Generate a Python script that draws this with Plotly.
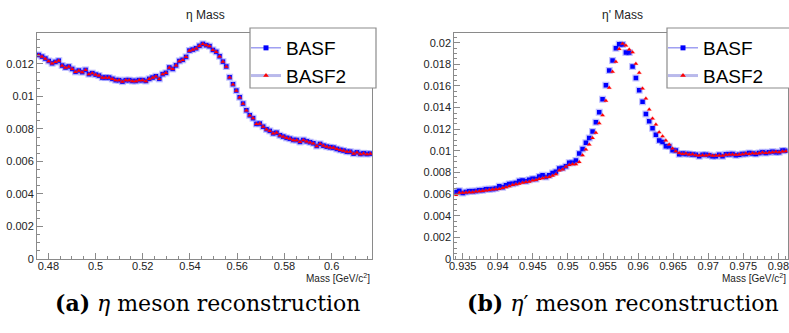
import numpy as np
import plotly.graph_objects as go

# ---------------- data ----------------
# eta histogram: 100 bins
eta_lo, eta_hi, eta_nbins = 0.4752, 0.6171, 100
eta_basf = [
    0.01255, 0.01245, 0.01233, 0.01218, 0.01204, 0.01212, 0.01220, 0.01190, 0.01178, 0.01184,
    0.01169, 0.01151, 0.01159, 0.01149, 0.01163, 0.01137, 0.01143, 0.01134, 0.01128, 0.01116,
    0.01116, 0.01116, 0.01108, 0.01100, 0.01100, 0.01091, 0.01100, 0.01100, 0.01095, 0.01095,
    0.01100, 0.01100, 0.01095, 0.01108, 0.01116, 0.01124, 0.01108, 0.01137, 0.01145, 0.01178,
    0.01169, 0.01191, 0.01218, 0.01225, 0.01243, 0.01282, 0.01288, 0.01296, 0.01311, 0.01323,
    0.01315, 0.01309, 0.01286, 0.01274, 0.01247, 0.01214, 0.01184, 0.01118, 0.01075, 0.01036,
    0.00995, 0.00956, 0.00915, 0.00884, 0.00866, 0.00831, 0.00833, 0.00814, 0.00798, 0.00788,
    0.00773, 0.00777, 0.00761, 0.00753, 0.00745, 0.00740, 0.00732, 0.00732, 0.00720, 0.00732,
    0.00724, 0.00718, 0.00712, 0.00695, 0.00708, 0.00697, 0.00691, 0.00687, 0.00685, 0.00677,
    0.00671, 0.00667, 0.00660, 0.00660, 0.00648, 0.00656, 0.00646, 0.00650, 0.00646, 0.00648,
]
eta_basf2 = [
    0.01253, 0.01244, 0.01232, 0.01217, 0.01203, 0.01211, 0.01219, 0.01189, 0.01177, 0.01183,
    0.01168, 0.01150, 0.01158, 0.01148, 0.01162, 0.01136, 0.01142, 0.01133, 0.01127, 0.01115,
    0.01115, 0.01115, 0.01107, 0.01099, 0.01099, 0.01090, 0.01099, 0.01099, 0.01094, 0.01094,
    0.01099, 0.01099, 0.01094, 0.01107, 0.01115, 0.01123, 0.01107, 0.01136, 0.01144, 0.01177,
    0.01168, 0.01190, 0.01217, 0.01224, 0.01242, 0.01281, 0.01287, 0.01295, 0.01310, 0.01322,
    0.01314, 0.01308, 0.01285, 0.01273, 0.01246, 0.01213, 0.01183, 0.01117, 0.01074, 0.01035,
    0.00994, 0.00955, 0.00914, 0.00883, 0.00865, 0.00830, 0.00832, 0.00813, 0.00797, 0.00787,
    0.00772, 0.00776, 0.00760, 0.00752, 0.00744, 0.00739, 0.00731, 0.00731, 0.00719, 0.00731,
    0.00723, 0.00717, 0.00711, 0.00694, 0.00707, 0.00696, 0.00690, 0.00686, 0.00684, 0.00676,
    0.00670, 0.00666, 0.00659, 0.00659, 0.00647, 0.00655, 0.00645, 0.00649, 0.00645, 0.00647,
]

# eta' histogram: 100 bins
etap_lo, etap_hi, etap_nbins = 0.9338, 0.9813, 100
etap_basf = [
    0.00620, 0.00632, 0.00611, 0.00620, 0.00626, 0.00626, 0.00630, 0.00636, 0.00636, 0.00645,
    0.00645, 0.00648, 0.00651, 0.00672, 0.00663, 0.00682, 0.00694, 0.00697, 0.00703, 0.00722,
    0.00725, 0.00719, 0.00734, 0.00743, 0.00740, 0.00762, 0.00774, 0.00759, 0.00774, 0.00796,
    0.00806, 0.00836, 0.00842, 0.00858, 0.00889, 0.00889, 0.00910, 0.00975, 0.01018, 0.01074,
    0.01120, 0.01179, 0.01265, 0.01358, 0.01478, 0.01607, 0.01744, 0.01836, 0.01950, 0.01985,
    0.01984, 0.01910, 0.01910, 0.01780, 0.01675, 0.01560, 0.01455, 0.01340, 0.01275, 0.01210,
    0.01148, 0.01097, 0.01083, 0.01043, 0.01043, 0.01006, 0.01003, 0.00969, 0.00975, 0.00972,
    0.00972, 0.00966, 0.00963, 0.00950, 0.00963, 0.00963, 0.00960, 0.00950, 0.00950, 0.00963,
    0.00950, 0.00969, 0.00969, 0.00972, 0.00960, 0.00963, 0.00972, 0.00972, 0.00981, 0.00975,
    0.00972, 0.00981, 0.00988, 0.00981, 0.00988, 0.00991, 0.00988, 0.00988, 0.01003, 0.01000,
]
etap_basf2 = [
    0.00593, 0.00612, 0.00612, 0.00615, 0.00618, 0.00618, 0.00624, 0.00627, 0.00630, 0.00633,
    0.00639, 0.00642, 0.00645, 0.00648, 0.00657, 0.00663, 0.00672, 0.00684, 0.00691, 0.00697,
    0.00706, 0.00712, 0.00715, 0.00725, 0.00731, 0.00740, 0.00746, 0.00756, 0.00759, 0.00771,
    0.00784, 0.00818, 0.00827, 0.00852, 0.00870, 0.00876, 0.00876, 0.00898, 0.00959, 0.01012,
    0.01058, 0.01120, 0.01167, 0.01256, 0.01330, 0.01463, 0.01583, 0.01731, 0.01824, 0.01941,
    0.01990, 0.01975, 0.01938, 0.01913, 0.01806, 0.01722, 0.01577, 0.01484, 0.01382, 0.01299,
    0.01244, 0.01172, 0.01135, 0.01095, 0.01058, 0.01021, 0.00997, 0.00981, 0.00972, 0.00975,
    0.00966, 0.00969, 0.00960, 0.00957, 0.00960, 0.00957, 0.00963, 0.00954, 0.00957, 0.00957,
    0.00954, 0.00963, 0.00966, 0.00966, 0.00963, 0.00966, 0.00969, 0.00975, 0.00972, 0.00978,
    0.00975, 0.00978, 0.00984, 0.00981, 0.00984, 0.00988, 0.00991, 0.00988, 0.00994, 0.00997,
]

series_names = ["BASF", "BASF2"]
titles = ["\u03b7 Mass", "\u03b7' Mass"]
captions = ["<b>(a)</b> <i>\u03b7</i> meson reconstruction",
            "<b>(b)</b> <i>\u03b7</i>\u2032 meson reconstruction"]
x_title = "Mass [GeV/c<sup>2</sup>]"


def centers(lo, hi, n):
    edges = np.linspace(lo, hi, n + 1)
    return 0.5 * (edges[:-1] + edges[1:])


eta_x = centers(eta_lo, eta_hi, eta_nbins)
etap_x = centers(etap_lo, etap_hi, etap_nbins)

W, H = 789, 333
FRAME_TOP, FRAME_BOT = 33, 259
yd = [1 - FRAME_BOT / H, 1 - FRAME_TOP / H]
left_dom = [37 / W, 372 / W]
right_dom = [454.3 / W, 787.5 / W]

BLUE = "rgb(0,0,255)"
RED = "rgb(255,0,0)"
HALO = "rgba(120,120,255,0.45)"
HALO2 = "rgba(255,120,120,0.25)"
AXC = "#8a8a8a"
TXT = "#222222"

fig = go.Figure()


def add_panel(x, yb, yr, xa, ya, legend):
    fig.add_trace(go.Scatter(x=x, y=yb, xaxis=xa, yaxis=ya, mode="markers",
                             marker=dict(symbol="square", size=7, color=HALO),
                             showlegend=False, hoverinfo="skip"))
    fig.add_trace(go.Scatter(x=x, y=yb, xaxis=xa, yaxis=ya, mode="markers",
                             marker=dict(symbol="square", size=4.5, color=BLUE),
                             showlegend=False))
    fig.add_trace(go.Scatter(x=x, y=yr, xaxis=xa, yaxis=ya, mode="markers",
                             marker=dict(symbol="triangle-up", size=6, color=HALO2),
                             showlegend=False, hoverinfo="skip"))
    fig.add_trace(go.Scatter(x=x, y=yr, xaxis=xa, yaxis=ya, mode="markers",
                             marker=dict(symbol="triangle-up", size=4, color=RED),
                             showlegend=False))
    # legend entries
    fig.add_trace(go.Scatter(x=[None], y=[None], xaxis=xa, yaxis=ya, mode="lines+markers",
                             name=series_names[0], legend=legend,
                             line=dict(color="rgb(110,110,235)", width=1),
                             marker=dict(symbol="square", size=5, color=BLUE)))
    fig.add_trace(go.Scatter(x=[None], y=[None], xaxis=xa, yaxis=ya, mode="lines+markers",
                             name=series_names[1], legend=legend,
                             line=dict(color="rgb(185,185,235)", width=3),
                             marker=dict(symbol="triangle-up", size=5, color=RED)))


add_panel(eta_x, eta_basf, eta_basf2, "x", "y", "legend")
add_panel(etap_x, etap_basf, etap_basf2, "x2", "y2", "legend2")

tickfont = dict(family="Liberation Sans, Arial, sans-serif", size=11, color=TXT)


def axis_common():
    return dict(showline=True, linecolor=AXC, linewidth=1, mirror=True,
                ticks="inside", ticklen=6, tickcolor=AXC, tickwidth=1,
                showgrid=False, zeroline=False, tickfont=tickfont, automargin=False,
                ticklabeloverflow="allow")


legend_common = dict(xanchor="left", yanchor="top",
                     bgcolor="rgba(0,0,0,0)", borderwidth=0, tracegroupgap=0,
                     font=dict(family="Liberation Sans, Arial, sans-serif", size=19, color="black"),
                     itemwidth=30)

fig.update_layout(
    width=W, height=H, margin=dict(l=0, r=0, t=0, b=0, autoexpand=False),
    paper_bgcolor="white", plot_bgcolor="white", showlegend=True,
    xaxis=dict(domain=left_dom, anchor="y", range=[eta_lo, eta_hi], dtick=0.02, tick0=0.48,
               ticklabelstandoff=-3,
               minor=dict(dtick=0.005, ticklen=3, tickcolor=AXC, ticks="inside"), **axis_common()),
    yaxis=dict(domain=yd, anchor="x", range=[0, 0.0139], dtick=0.002, tick0=0,
               minor=dict(dtick=0.0005, ticklen=3, tickcolor=AXC, ticks="inside"), **axis_common()),
    xaxis2=dict(domain=right_dom, anchor="y2", range=[etap_lo, etap_hi], dtick=0.005, tick0=0.935,
                ticklabelstandoff=-3,
                minor=dict(dtick=0.001, ticklen=3, tickcolor=AXC, ticks="inside"), **axis_common()),
    yaxis2=dict(domain=yd, anchor="x2", range=[0, 0.0209], dtick=0.002, tick0=0,
                minor=dict(dtick=0.0005, ticklen=3, tickcolor=AXC, ticks="inside"), **axis_common()),
    legend=dict(x=246 / W, y=1 - 29 / H, **legend_common),
    legend2=dict(x=663 / W, y=1 - 29 / H, **legend_common),
)

# legend frames
shapes = []
for (x0, x1) in [(250, 376), (667, 800)]:
    shapes.append(dict(type="rect", xref="paper", yref="paper", x0=x0 / W, x1=x1 / W,
                       y0=1 - 88 / H, y1=1 - 28 / H, line=dict(color="#8c8c8c", width=1.2),
                       fillcolor="white", layer="above"))
fig.update_layout(shapes=shapes)

ann = []
for i, (xr, cx) in enumerate([("x domain", 205), ("x2 domain", 622)]):
    ann.append(dict(text=titles[i], xref="paper", yref="paper", x=cx / W, y=1 - 15 / H,
                    xanchor="center", yanchor="middle", showarrow=False,
                    font=dict(family="Liberation Sans, Arial, sans-serif", size=12, color=TXT)))
    ann.append(dict(text=x_title, xref=xr, yref="paper", x=1, y=1 - 278 / H,
                    xanchor="right", yanchor="middle", showarrow=False,
                    font=dict(family="Liberation Sans, Arial, sans-serif", size=10, color=TXT)))
for i, cx in enumerate([208, 623]):
    ann.append(dict(text=captions[i], xref="paper", yref="paper", x=cx / W, y=1 - 303 / H,
                    xanchor="center", yanchor="middle", showarrow=False,
                    font=dict(family="DejaVu Serif, serif", size=22, color="black")))
fig.update_layout(annotations=ann)

fig.write_html("out.html", config={"displayModeBar": False},
               post_script="document.body.style.margin='0';document.body.style.overflow='hidden';")
